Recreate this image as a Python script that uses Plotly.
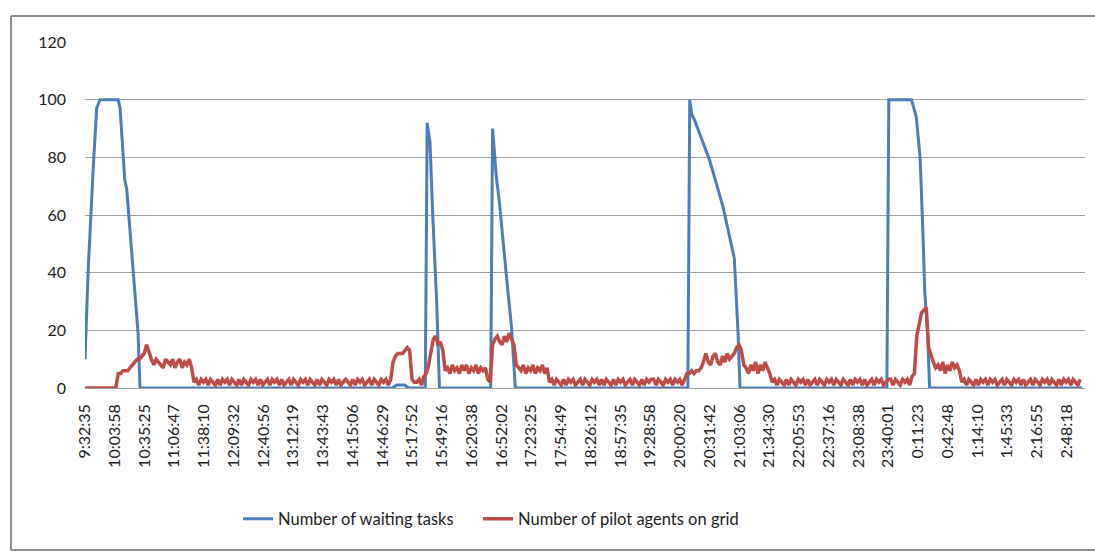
import plotly.graph_objects as go

# tick labels of the category (time) axis
time_labels = [
    "9:32:35", "10:03:58", "10:35:25", "11:06:47", "11:38:10", "12:09:32",
    "12:40:56", "13:12:19", "13:43:43", "14:15:06", "14:46:29", "15:17:52",
    "15:49:16", "16:20:38", "16:52:02", "17:23:25", "17:54:49", "18:26:12",
    "18:57:35", "19:28:58", "20:00:20", "20:31:42", "21:03:06", "21:34:30",
    "22:05:53", "22:37:16", "23:08:38", "23:40:01", "0:11:23", "0:42:48",
    "1:14:10", "1:45:33", "2:16:55", "2:48:18",
]

# waiting tasks: minutes after 9:32:35 and value
waiting_t = [0, 3.5, 8.8, 12.3, 15.8, 35, 37, 42, 44, 51, 56, 58,
             324, 329, 337, 342,
             359, 361, 364, 367, 371, 374,
             428, 430, 432, 434, 437, 441, 446, 450, 454,
             636, 638, 640, 643, 659, 673, 685, 689, 691,
             846, 848, 872, 877, 881, 884, 886, 889, 891,
             1052]
waiting_v = [10, 42, 77, 97, 100, 100, 97, 72, 69, 40, 19, 0,
             0, 1, 1, 0,
             0, 92, 85, 59, 30, 0,
             0, 90, 82, 73, 65, 50, 34, 21, 0,
             0, 100, 95, 93, 79, 63, 45, 19, 0,
             0, 100, 100, 94, 80, 54, 33, 19, 0,
             0]

# pilot agents on grid, one reading every 2.5 minutes (20 per row = 50 min)
sample_minutes = 2.5
pilots_v = [
    0, 0, 0, 0, 0, 0, 0, 0, 0, 0, 0, 0, 0, 0, 5, 5, 6, 6, 6, 7,
    8, 9, 10, 10, 11, 12, 15, 12, 10, 8, 10, 9, 8, 7, 10, 9, 8, 10, 7, 9,
    10, 7, 9, 8, 10, 7, 2, 3, 1, 3, 2, 3, 1, 3, 2, 1, 3, 1, 3, 2,
    3, 1, 3, 2, 1, 3, 1, 3, 2, 1, 3, 2, 3, 1, 3, 1, 2, 3, 1, 3,
    2, 3, 1, 3, 1, 2, 3, 1, 3, 2, 1, 3, 2, 3, 1, 3, 2, 1, 3, 1,
    3, 2, 1, 3, 2, 3, 1, 3, 1, 2, 3, 2, 1, 3, 1, 3, 2, 3, 1, 2,
    3, 1, 3, 2, 1, 3, 2, 3, 1, 3, 9, 11, 12, 12, 12, 13, 14, 13, 3, 2,
    2, 3, 1, 4, 5, 8, 12, 17, 18, 15, 16, 13, 6, 7, 5, 8, 6, 7, 5, 8,
    6, 8, 5, 7, 6, 8, 5, 7, 6, 7, 3, 2, 15, 17, 18, 16, 15, 18, 16, 19,
    17, 15, 8, 7, 6, 8, 5, 7, 6, 8, 5, 7, 6, 8, 5, 7, 2, 3, 1, 3,
    2, 1, 3, 1, 3, 2, 3, 1, 2, 3, 1, 3, 2, 1, 3, 2, 3, 1, 3, 1,
    3, 2, 1, 3, 1, 3, 2, 3, 1, 2, 3, 1, 3, 2, 1, 3, 1, 3, 2, 3,
    3, 1, 3, 2, 1, 3, 2, 3, 1, 3, 2, 3, 1, 3, 5, 5, 6, 5, 6, 6,
    7, 9, 12, 9, 8, 11, 12, 9, 8, 11, 9, 12, 10, 11, 12, 14, 15, 13, 8, 7,
    5, 8, 6, 9, 5, 8, 6, 9, 7, 5, 2, 3, 1, 3, 2, 1, 3, 1, 3, 2,
    1, 3, 2, 3, 1, 3, 1, 2, 3, 1, 3, 2, 1, 3, 2, 3, 1, 3, 2, 1,
    3, 2, 1, 3, 1, 3, 2, 3, 1, 3, 1, 2, 3, 1, 3, 2, 3, 1, 2, 3,
    3, 1, 3, 2, 1, 3, 2, 3, 1, 4, 5, 18, 22, 26, 27, 28, 14, 11, 9, 7,
    8, 6, 9, 5, 8, 6, 9, 7, 8, 6, 2, 3, 1, 3, 2, 1, 3, 1, 3, 2,
    3, 1, 3, 2, 3, 1, 2, 3, 1, 3, 2, 1, 3, 2, 3, 1, 3, 1, 2, 3,
    1, 3, 2, 1, 3, 2, 3, 1, 3, 2, 1, 3, 1, 3, 2, 3, 1, 3, 2, 1,
    3,
]
pilots_t = [i * sample_minutes for i in range(len(pilots_v))]


def to_minutes(label, start="9:32:35"):
    h, m, s = (int(p) for p in label.split(":"))
    h0, m0, s0 = (int(p) for p in start.split(":"))
    d = (h * 3600 + m * 60 + s) - (h0 * 3600 + m0 * 60 + s0)
    if d < 0:
        d += 24 * 3600
    return d / 60


tick_vals = [to_minutes(t) for t in time_labels]

FONT = "Lato, 'Open Sans', sans-serif"
W, H = 1095, 553
L, R, T, B = 85, 10, 42, 165
pw, ph = W - L - R, H - T - B


def px_x(p):
    return (p - L) / pw


def px_y(p):
    return (H - B - p) / ph


fig = go.Figure()
fig.add_trace(go.Scatter(
    x=waiting_t, y=waiting_v, mode="lines",
    name="Number of waiting tasks",
    line=dict(color="#4a7ebb", width=3),
    legend="legend",
))
fig.add_trace(go.Scatter(
    x=pilots_t, y=pilots_v, mode="lines",
    name="Number of pilot agents on grid",
    line=dict(color="#be4b48", width=3.5),
    legend="legend2",
))

# outer chart border: left, top and bottom (right edge lies outside the picture)
border = dict(color="#8c8c8c", width=2)
for x0, y0, x1, y1 in [(11, 16, 11, 550), (11, 16, 1200, 16), (11, 550, 1200, 550)]:
    fig.add_shape(type="line", xref="paper", yref="paper", layer="below",
                  x0=px_x(x0), y0=px_y(y0), x1=px_x(x1), y1=px_y(y1), line=border)

legend_style = dict(orientation="h", xanchor="left", y=-0.379, yanchor="middle",
                    font=dict(size=16.5), bgcolor="rgba(0,0,0,0)")

fig.update_layout(
    width=W, height=H,
    margin=dict(l=L, r=R, t=T, b=B),
    paper_bgcolor="white", plot_bgcolor="white",
    font=dict(family=FONT, size=16, color="#222222"),
    showlegend=True,
    legend=dict(x=px_x(238), **legend_style),
    legend2=dict(x=px_x(478), **legend_style),
    xaxis=dict(
        range=[0, 1055], tickvals=tick_vals, ticktext=time_labels,
        tickangle=-90, showgrid=False, zeroline=False,
        showline=False, ticks="", ticklabelstandoff=12,
    ),
    yaxis=dict(
        range=[0, 120], tickvals=[0, 20, 40, 60, 80, 100, 120],
        showgrid=True, gridcolor="#a0a0a0", gridwidth=1,
        zeroline=True, zerolinecolor="#a0a0a0", zerolinewidth=1,
        showline=False, ticks="", ticklabelstandoff=18,
    ),
)

# the page's default body margin would shift the figure by 8px
fig.write_html("out.html", config={"displayModeBar": False},
               post_script="document.body.style.margin='0';")
